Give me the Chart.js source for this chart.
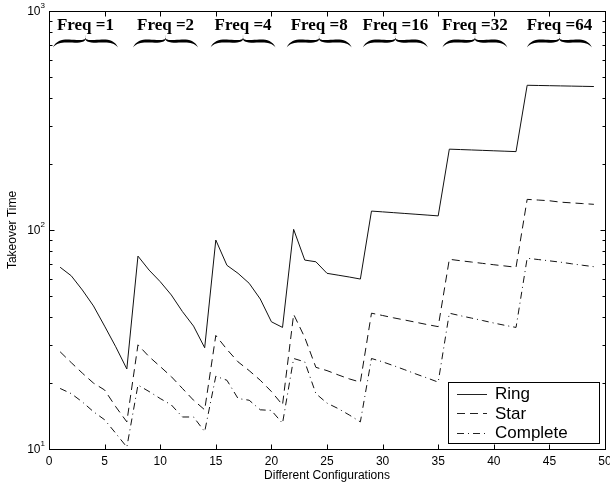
<!DOCTYPE html>
<html><head><meta charset="utf-8">
<script src="https://cdn.jsdelivr.net/npm/chart.js@4/dist/chart.umd.min.js"></script>
<style>html,body{margin:0;padding:0;background:#fff;}canvas{display:block;}</style>
</head><body>
<canvas id="c" width="610" height="486"></canvas>
<script>
// ---- data ----
const configs = [1,2,3,4,5,6,7,8,9,10,11,12,13,14,15,16,17,18,19,20,21,22,23,24,25,26,27,28,29,30,31,32,33,34,35,36,37,38,39,40,41,42,43,44,45,46,47,48,49];
const ring = [67.6,61.8,53.2,45.0,36.4,29.3,23.2,
  76,65.6,58.1,50.5,42.4,36.4,29.0,
  90,69,63.4,57.1,48.4,38.1,35.9,
  100.7,72.9,71.6,63.4,62.2,61.0,59.7,
  122,121,120,119,118,117,116,
  234,233,232,231,230,229,228,
  458,457,456,455,454,453,452];
const star = [27.8,24.8,22.2,20.0,18.6,15.6,13.3,
  29.9,26.4,23.8,21.4,18.9,16.7,15.1,
  33.0,28.5,25.0,22.8,20.6,18.3,15.9,
  41.2,32.3,23.6,22.8,21.8,20.9,20.2,
  41.7,40.7,39.7,38.8,37.9,37.0,36.2,
  73.5,72.4,71.4,70.4,69.4,68.5,67.6,
  138,137,136,134,133,132,131];
const complete = [18.9,17.9,16.4,14.8,13.6,11.8,10.2,
  19.6,18.3,17.0,15.9,14.0,14.0,12.0,
  21.5,20.6,17.0,16.7,15.1,15.0,13.1,
  25.9,25.0,17.9,16.2,15.3,14.3,13.3,
  25.9,25.0,24.0,23.0,22.0,21.1,20.2,
  41.7,40.6,39.6,38.6,37.6,36.7,35.9,
  74.3,73.3,72.3,71.3,70.1,69.0,68.0];
const seriesNames = ['Ring','Star','Complete'];
const xTicks = [0,5,10,15,20,25,30,35,40,45,50];
const yMajor = [10,100,1000];
const yExponents = ['1','2','3'];
const freqLabels = ['Freq =1','Freq =2','Freq =4','Freq =8','Freq =16','Freq =32','Freq =64'];
const freqCenters = [3.28,10.48,17.45,24.3,31.15,38.3,45.9];
const xTitle = 'Different Configurations';
const yTitle = 'Takeover Time';

// ---- styles ----
const dashes = [[], [8,5], [7,4,1,4]];
const sans = '"Liberation Sans", Arial, sans-serif';
const serif = '"Liberation Serif", "Times New Roman", serif';

function toPoints(arr){ return configs.map((c,i)=>({x:c,y:arr[i]})); }

function drawBrace(ctx, cx, hw){
  ctx.save();
  ctx.fillStyle = '#000';
  [-1, 1].forEach(s=>{
    const x0 = cx + s*hw;
    const X = d => x0 - s*d;          // distance from outer end toward center
    ctx.beginPath();
    ctx.moveTo(x0, 47.5);
    ctx.bezierCurveTo(X(3), 40.5, X(hw*0.3), 39.3, X(hw*0.5), 39.6);
    ctx.bezierCurveTo(X(hw*0.75), 40.0, cx - s*3, 41.8, cx, 35);
    ctx.bezierCurveTo(cx - s*3, 43.6, X(hw*0.75), 42.9, X(hw*0.5), 42.6);
    ctx.bezierCurveTo(X(hw*0.3), 42.3, X(4), 42.6, x0, 47.5);
    ctx.closePath();
    ctx.fill();
  });
  ctx.restore();
}

const decor = {
  id:'decor',
  afterDatasetsDraw(chart){
    const ctx = chart.ctx, a = chart.chartArea, xs = chart.scales.x, ys = chart.scales.y;
    ctx.save();
    ctx.strokeStyle = '#000'; ctx.lineWidth = 1; ctx.setLineDash([]);
    const L = Math.round(a.left)+0.5, R = Math.round(a.right)+0.5, T = Math.round(a.top)+0.5, B = Math.round(a.bottom)+0.5;
    ctx.strokeRect(L, T, R-L, B-T);
    ctx.beginPath();
    xTicks.forEach(v=>{
      const p = Math.round(xs.getPixelForValue(v))+0.5;
      ctx.moveTo(p,B); ctx.lineTo(p,B-5);
      ctx.moveTo(p,T); ctx.lineTo(p,T+5);
    });
    yMajor.forEach(v=>{
      const p = Math.round(ys.getPixelForValue(v))+0.5;
      ctx.moveTo(L,p); ctx.lineTo(L+5,p);
      ctx.moveTo(R,p); ctx.lineTo(R-5,p);
    });
    for (let d = 0; d < yMajor.length-1; d++){
      for (let k = 2; k <= 9; k++){
        const p = Math.round(ys.getPixelForValue(yMajor[d]*k))+0.5;
        ctx.moveTo(L,p); ctx.lineTo(L+3,p);
        ctx.moveTo(R,p); ctx.lineTo(R-3,p);
      }
    }
    ctx.stroke();
    ctx.fillStyle = '#000';
    ctx.font = '12px ' + sans;
    ctx.textAlign = 'center'; ctx.textBaseline = 'middle';
    xTicks.forEach(v=>{ ctx.fillText(String(v), xs.getPixelForValue(v), B+12); });
    yMajor.forEach((v,i)=>{
      const p = ys.getPixelForValue(v);
      ctx.font = '12px ' + sans; ctx.textAlign = 'right'; ctx.textBaseline = 'middle';
      ctx.fillText('10', L-9, p+1);
      ctx.font = '8px ' + sans; ctx.textAlign = 'left';
      ctx.fillText(yExponents[i], L-9, p-5);
    });
    ctx.font = '12px ' + sans; ctx.textAlign = 'center'; ctx.textBaseline = 'middle';
    ctx.fillText(xTitle, (a.left+a.right)/2, B+26);
    ctx.save();
    ctx.translate(12.5, (a.top+a.bottom)/2);
    ctx.rotate(-Math.PI/2);
    ctx.fillText(yTitle, 0, 0);
    ctx.restore();
    ctx.font = 'bold 17px ' + serif; ctx.textAlign = 'center'; ctx.textBaseline = 'alphabetic';
    freqLabels.forEach((t,i)=>{
      const cx = xs.getPixelForValue(freqCenters[i]);
      ctx.fillText(t, cx, 29.5);
      drawBrace(ctx, cx, 32.5);
    });
    const bx = 448, by = 382, bw = 151, bh = 61;
    ctx.fillStyle = '#fff'; ctx.fillRect(bx, by, bw, bh);
    ctx.strokeStyle = '#000'; ctx.lineWidth = 1; ctx.strokeRect(bx+0.5, by+0.5, bw, bh);
    ctx.font = '17px ' + sans; ctx.textAlign = 'left'; ctx.textBaseline = 'middle'; ctx.fillStyle = '#000';
    seriesNames.forEach((n,i)=>{
      const yy = by + 11.5 + i*19.5;
      ctx.strokeStyle = '#222'; ctx.setLineDash(dashes[i]);
      ctx.beginPath(); ctx.moveTo(457, Math.round(yy)+0.5); ctx.lineTo(487, Math.round(yy)+0.5); ctx.stroke();
      ctx.setLineDash([]);
      ctx.fillText(n, 495, yy+1);
    });
    ctx.restore();
  }
};

new Chart(document.getElementById('c'), {
  type:'line',
  data:{ datasets: [ring, star, complete].map((arr,i)=>({
    label: seriesNames[i], data: toPoints(arr),
    borderColor:'#111', borderWidth:1, borderDash: dashes[i],
    pointRadius:0, tension:0, fill:false
  }))},
  options:{
    responsive:false, animation:false, events:[],
    layout:{ padding:{ top:11, right:5, left:0, bottom:0 } },
    plugins:{ legend:{display:false}, tooltip:{enabled:false} },
    scales:{
      x:{ type:'linear', min:0, max:50,
          ticks:{display:false}, grid:{display:false}, border:{display:false},
          afterFit(s){ s.height = 37; } },
      y:{ type:'logarithmic', min:10, max:1000,
          ticks:{display:false}, grid:{display:false}, border:{display:false},
          afterFit(s){ s.width = 49; } }
    }
  },
  plugins:[decor]
});
</script>
</body></html>
